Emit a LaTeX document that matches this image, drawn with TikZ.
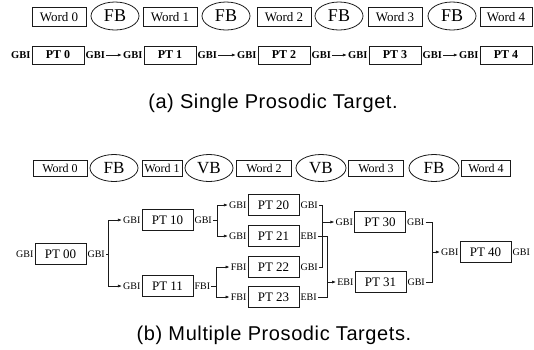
\documentclass[tikz,border=0pt]{standalone}
\usepackage{fontspec}
\setmainfont{Liberation Serif}
\newfontfamily\capfont[LetterSpace=3]{Liberation Sans}
\usepackage{tikz}
\usetikzlibrary{arrows.meta,shapes.geometric,calc}
\definecolor{lineink}{HTML}{1A1A1A}

\begin{document}
\begin{tikzpicture}[x=1pt,y=-1pt,>={Latex[length=4pt,width=3pt]}]
\tikzstyle{wordbox}=[draw=lineink,line width=0.8pt,minimum width=54,minimum height=19,inner sep=1pt,font=\fontsize{13}{13}\selectfont]
\tikzstyle{breakmark}=[draw=lineink,ellipse,line width=0.8pt,minimum width=48,minimum height=28,inner sep=0pt,font=\fontsize{18}{18}\selectfont]
\tikzstyle{ptbox}=[draw=lineink,line width=0.8pt,minimum width=51,minimum height=21,inner sep=1pt,font=\fontsize{13}{13}\selectfont]
\tikzstyle{bitag}=[inner sep=1pt,font=\fontsize{10}{10}\selectfont]
\tikzstyle{link}=[draw=lineink,line width=0.7pt]
\tikzstyle{caption}=[font=\capfont\fontsize{20}{24}\selectfont]
\newcommand{\prosodictarget}[5]{%
\node[ptbox] (#1) at (#2) {#3};
\node[bitag,anchor=east] (#1in) at (#1.west) {#4};
\if\relax\detokenize{#5}\relax\else
\node[bitag,anchor=west] (#1out) at (#1.east) {#5};
\fi
}
\useasboundingbox (0,0) rectangle (534,349);

\node[wordbox] (aw0) at (59,17) {Word 0};
\node[breakmark] (ab0) at (115,16) {FB};
\node[wordbox] (aw1) at (170,17) {Word 1};
\node[breakmark] (ab1) at (226,16) {FB};
\node[wordbox] (aw2) at (284,17) {Word 2};
\node[breakmark] (ab2) at (339,16) {FB};
\node[wordbox] (aw3) at (395,17) {Word 3};
\node[breakmark] (ab3) at (452,16) {FB};
\node[wordbox,minimum width=52] (aw4) at (506,17) {Word 4};

\begin{scope}[ptbox/.append style={minimum width=52,minimum height=18,font=\bfseries\fontsize{12}{12}\selectfont},
  bitag/.append style={font=\bfseries\fontsize{10.5}{10.5}\selectfont}]
\prosodictarget{pt0}{58,55}{PT 0}{GBI}{GBI}
\prosodictarget{pt1}{170,55}{PT 1}{GBI}{GBI}
\prosodictarget{pt2}{284,55}{PT 2}{GBI}{GBI}
\prosodictarget{pt3}{395,55}{PT 3}{GBI}{GBI}
\prosodictarget{pt4}{506,55}{PT 4}{GBI}{}
\end{scope}
\draw[link,->] (pt0out) -- (pt1in);
\draw[link,->] (pt1out) -- (pt2in);
\draw[link,->] (pt2out) -- (pt3in);
\draw[link,->] (pt3out) -- (pt4in);

\node[caption] (capa) at (273,103) {(a) Single Prosodic Target.};

\begin{scope}[wordbox/.append style={minimum height=16,font=\fontsize{12}{12}\selectfont},breakmark/.append style={minimum height=27,font=\fontsize{17}{17}\selectfont}]
\node[wordbox] (bw0) at (60,168) {Word 0};
\node[breakmark] (bb0) at (114,168) {FB};
\node[wordbox,minimum width=40] (bw1) at (162,168) {Word 1};
\node[breakmark] (bb1) at (209,168) {VB};
\node[wordbox,minimum width=55] (bw2) at (264,168) {Word 2};
\node[breakmark,minimum width=50] (bb2) at (321,168) {VB};
\node[wordbox,minimum width=55] (bw3) at (376,168) {Word 3};
\node[breakmark,minimum width=50] (bb3) at (434,168) {FB};
\node[wordbox,minimum width=49] (bw4) at (486,168) {Word 4};
\end{scope}

\prosodictarget{pt00}{60.5,254}{PT 00}{GBI}{GBI}
\prosodictarget{pt10}{167.5,220}{PT 10}{GBI}{GBI}
\prosodictarget{pt11}{167.5,286}{PT 11}{GBI}{FBI}
\prosodictarget{pt20}{273.5,205}{PT 20}{GBI}{GBI}
\prosodictarget{pt21}{273.5,236}{PT 21}{GBI}{EBI}
\prosodictarget{pt22}{273.5,267}{PT 22}{FBI}{GBI}
\prosodictarget{pt23}{273.5,297}{PT 23}{FBI}{EBI}
\prosodictarget{pt30}{380,222}{PT 30}{GBI}{GBI}
\prosodictarget{pt31}{380.5,282}{PT 31}{EBI}{GBI}
\prosodictarget{pt40}{485.5,252}{PT 40}{GBI}{GBI}

\coordinate (fork0) at (108,0);
\coordinate (fork1) at (217,0);
\coordinate (fork2) at (216,0);
\coordinate (join1) at (322,0);
\coordinate (join2) at (327,0);
\coordinate (join3) at (432,0);

\draw[link] (pt00out.east) -- (pt00out.east -| fork0);
\draw[link,->] (pt00out.east -| fork0) |- (pt10in.west);
\draw[link,->] (pt00out.east -| fork0) |- (pt11in.west);
\draw[link] (pt10out.east) -- (pt10out.east -| fork1);
\draw[link,->] (pt10out.east -| fork1) |- (pt20in.west);
\draw[link,->] (pt10out.east -| fork1) |- (pt21in.west);
\draw[link] (pt11out.east) -- (pt11out.east -| fork2);
\draw[link,->] (pt11out.east -| fork2) |- (pt22in.west);
\draw[link,->] (pt11out.east -| fork2) |- (pt23in.west);

\draw[link] (pt20out.east) -- (pt20out.east -| join1) -- (pt22out.east -| join1) -- (pt22out.east);
\draw[link,->] (pt30in.west -| join1) -- (pt30in.west);
\draw[link] (pt21out.east) -- (pt21out.east -| join2) -- (pt23out.east -| join2) -- (pt23out.east);
\draw[link,->] (pt31in.west -| join2) -- (pt31in.west);
\draw[link] (pt30out.east) -- (pt30out.east -| join3) -- (pt31out.east -| join3) -- (pt31out.east);
\draw[link,->] (pt40in.west -| join3) -- (pt40in.west);

\node[caption] (capb) at (274,335) {(b) Multiple Prosodic Targets.};
\end{tikzpicture}
\end{document}
